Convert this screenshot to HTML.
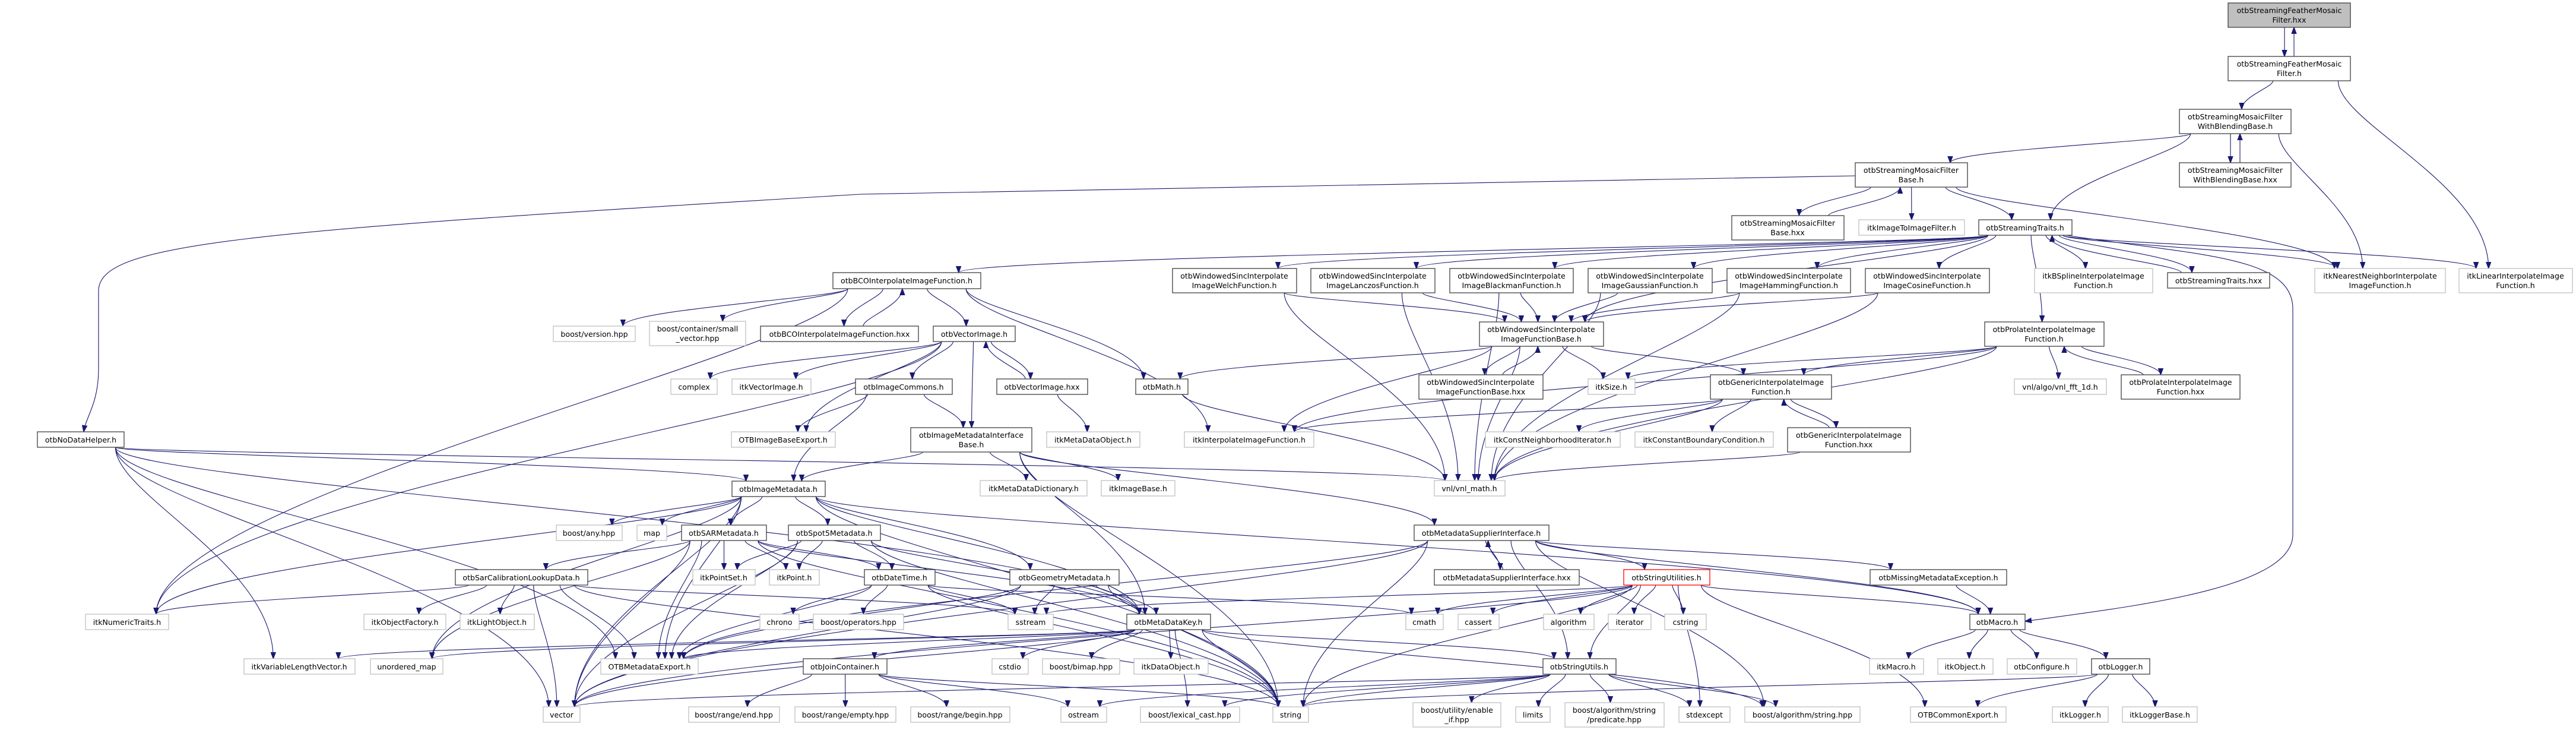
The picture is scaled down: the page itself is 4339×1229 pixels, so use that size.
<!DOCTYPE html>
<html><head><meta charset="utf-8"><style>
html,body{margin:0;padding:0;background:#fff;}
svg{display:block;}
text{font-family:"DejaVu Sans","Liberation Sans",sans-serif;font-size:12.6px;fill:#000;text-anchor:middle;}
rect{fill:#fff;stroke-width:1.3;}
.b rect{stroke:#404040;}
.g rect{stroke:#bfbfbf;}
.r rect{stroke:#ff0000;}
.f rect{fill:#bfbfbf;stroke:#404040;}
#edges path{fill:none;stroke:#191970;stroke-width:1.1;}
</style></head><body>
<svg id="svg" width="4339" height="1229" viewBox="0 0 4339 1229" xmlns="http://www.w3.org/2000/svg">
<defs><marker id="ah" markerWidth="12" markerHeight="9" refX="11" refY="4.5" orient="auto" markerUnits="userSpaceOnUse"><path d="M0,0 L12,4.5 L0,9 z" fill="#191970" stroke="#191970" stroke-width="0.5"/></marker></defs>
<g id="edges">
<path marker-end="url(#ah)" d="M3125 296 L1450 327 C 400 390 166 410 166 490 L166 620 C166 680 145 700 141 727"/>
<path marker-end="url(#ah)" d="M3480 396 C3700 430 3862 430 3862 520 L3862 900 C3862 990 3600 1020 3411 1046"/>
</g>
<g id="nodes">
<g id="A" class="f"><rect x="3753" y="5" width="206" height="41"/><text x="3856" y="22">otbStreamingFeatherMosaic</text><text x="3856" y="38">Filter.hxx</text></g>
<g id="B" class="b"><rect x="3753" y="95" width="206" height="41"/><text x="3856" y="112">otbStreamingFeatherMosaic</text><text x="3856" y="128">Filter.h</text></g>
<g id="C" class="b"><rect x="3671" y="184" width="188" height="41"/><text x="3765" y="201">otbStreamingMosaicFilter</text><text x="3765" y="217">WithBlendingBase.h</text></g>
<g id="D" class="b"><rect x="3671" y="274" width="188" height="41"/><text x="3765" y="291">otbStreamingMosaicFilter</text><text x="3765" y="307">WithBlendingBase.hxx</text></g>
<g id="E" class="b"><rect x="3125" y="274" width="189" height="41"/><text x="3219" y="291">otbStreamingMosaicFilter</text><text x="3219" y="307">Base.h</text></g>
<g id="F" class="b"><rect x="2917" y="363" width="189" height="41"/><text x="3011" y="380">otbStreamingMosaicFilter</text><text x="3011" y="396">Base.hxx</text></g>
<g id="G" class="g"><rect x="3131" y="370" width="178" height="26"/><text x="3220" y="388">itkImageToImageFilter.h</text></g>
<g id="H" class="b"><rect x="3333" y="370" width="157" height="26"/><text x="3411" y="388">otbStreamingTraits.h</text></g>
<g id="I" class="b"><rect x="2909" y="452" width="208" height="41"/><text x="3013" y="469">otbWindowedSincInterpolate</text><text x="3013" y="485">ImageHammingFunction.h</text></g>
<g id="J" class="b"><rect x="3142" y="452" width="209" height="41"/><text x="3246" y="469">otbWindowedSincInterpolate</text><text x="3246" y="485">ImageCosineFunction.h</text></g>
<g id="K" class="g"><rect x="3427" y="452" width="199" height="41"/><text x="3526" y="469">itkBSplineInterpolateImage</text><text x="3526" y="485">Function.h</text></g>
<g id="L" class="b"><rect x="3651" y="459" width="172" height="26"/><text x="3737" y="477">otbStreamingTraits.hxx</text></g>
<g id="M" class="g"><rect x="3899" y="452" width="220" height="41"/><text x="4009" y="469">itkNearestNeighborInterpolate</text><text x="4009" y="485">ImageFunction.h</text></g>
<g id="N" class="g"><rect x="4142" y="452" width="191" height="41"/><text x="4237" y="469">itkLinearInterpolateImage</text><text x="4237" y="485">Function.h</text></g>
<g id="O" class="b"><rect x="3343" y="542" width="201" height="41"/><text x="3443" y="559">otbProlateInterpolateImage</text><text x="3443" y="575">Function.h</text></g>
<g id="P" class="b"><rect x="1403" y="459" width="249" height="27"/><text x="1527" y="477">otbBCOInterpolateImageFunction.h</text></g>
<g id="Q" class="b"><rect x="1975" y="452" width="209" height="41"/><text x="2079" y="469">otbWindowedSincInterpolate</text><text x="2079" y="485">ImageWelchFunction.h</text></g>
<g id="R" class="b"><rect x="2208" y="452" width="209" height="41"/><text x="2312" y="469">otbWindowedSincInterpolate</text><text x="2312" y="485">ImageLanczosFunction.h</text></g>
<g id="S" class="b"><rect x="2442" y="452" width="208" height="41"/><text x="2546" y="469">otbWindowedSincInterpolate</text><text x="2546" y="485">ImageBlackmanFunction.h</text></g>
<g id="T" class="b"><rect x="2675" y="452" width="209" height="41"/><text x="2779" y="469">otbWindowedSincInterpolate</text><text x="2779" y="485">ImageGaussianFunction.h</text></g>
<g id="U" class="b"><rect x="2492" y="542" width="209" height="41"/><text x="2596" y="559">otbWindowedSincInterpolate</text><text x="2596" y="575">ImageFunctionBase.h</text></g>
<g id="V" class="b"><rect x="1572" y="549" width="138" height="26"/><text x="1641" y="567">otbVectorImage.h</text></g>
<g id="W" class="b"><rect x="1281" y="549" width="266" height="26"/><text x="1414" y="567">otbBCOInterpolateImageFunction.hxx</text></g>
<g id="X" class="g"><rect x="932" y="549" width="138" height="26"/><text x="1001" y="567">boost/version.hpp</text></g>
<g id="Y" class="g"><rect x="1094" y="541" width="162" height="41"/><text x="1175" y="558">boost/container/small</text><text x="1175" y="574">_vector.hpp</text></g>
<g id="Z" class="g"><rect x="1130" y="638" width="78" height="26"/><text x="1169" y="656">complex</text></g>
<g id="AA" class="g"><rect x="1233" y="638" width="133" height="26"/><text x="1299" y="656">itkVectorImage.h</text></g>
<g id="AB" class="b"><rect x="1441" y="638" width="163" height="26"/><text x="1522" y="656">otbImageCommons.h</text></g>
<g id="AC" class="b"><rect x="1679" y="638" width="153" height="26"/><text x="1755" y="656">otbVectorImage.hxx</text></g>
<g id="AD" class="b"><rect x="1913" y="638" width="88" height="26"/><text x="1957" y="656">otbMath.h</text></g>
<g id="AE" class="b"><rect x="2390" y="631" width="209" height="41"/><text x="2494" y="648">otbWindowedSincInterpolate</text><text x="2494" y="664">ImageFunctionBase.hxx</text></g>
<g id="AF" class="g"><rect x="2675" y="638" width="79" height="26"/><text x="2714" y="656">itkSize.h</text></g>
<g id="AG" class="b"><rect x="2881" y="631" width="204" height="41"/><text x="2983" y="648">otbGenericInterpolateImage</text><text x="2983" y="664">Function.h</text></g>
<g id="AH" class="g"><rect x="3393" y="638" width="155" height="26"/><text x="3470" y="656">vnl/algo/vnl_fft_1d.h</text></g>
<g id="AI" class="b"><rect x="3573" y="631" width="200" height="41"/><text x="3673" y="648">otbProlateInterpolateImage</text><text x="3673" y="664">Function.hxx</text></g>
<g id="AJ" class="b"><rect x="63" y="727" width="146" height="26"/><text x="136" y="745">otbNoDataHelper.h</text></g>
<g id="AK" class="g"><rect x="1232" y="727" width="175" height="26"/><text x="1319" y="745">OTBImageBaseExport.h</text></g>
<g id="AL" class="b"><rect x="1534" y="720" width="204" height="41"/><text x="1636" y="737">otbImageMetadataInterface</text><text x="1636" y="753">Base.h</text></g>
<g id="AM" class="g"><rect x="1763" y="727" width="157" height="26"/><text x="1841" y="745">itkMetaDataObject.h</text></g>
<g id="AN" class="g"><rect x="1995" y="727" width="218" height="26"/><text x="2104" y="745">itkInterpolateImageFunction.h</text></g>
<g id="AO" class="g"><rect x="2502" y="727" width="227" height="26"/><text x="2615" y="745">itkConstNeighborhoodIterator.h</text></g>
<g id="AP" class="g"><rect x="2754" y="727" width="233" height="26"/><text x="2870" y="745">itkConstantBoundaryCondition.h</text></g>
<g id="AQ" class="b"><rect x="3011" y="720" width="207" height="41"/><text x="3114" y="737">otbGenericInterpolateImage</text><text x="3114" y="753">Function.hxx</text></g>
<g id="AR" class="b"><rect x="1233" y="810" width="157" height="26"/><text x="1311" y="828">otbImageMetadata.h</text></g>
<g id="AS" class="g"><rect x="1651" y="809" width="180" height="26"/><text x="1741" y="827">itkMetaDataDictionary.h</text></g>
<g id="AT" class="g"><rect x="1855" y="809" width="124" height="26"/><text x="1917" y="827">itkImageBase.h</text></g>
<g id="AU" class="g"><rect x="2416" y="809" width="119" height="26"/><text x="2475" y="827">vnl/vnl_math.h</text></g>
<g id="AV" class="g"><rect x="937" y="884" width="111" height="26"/><text x="992" y="902">boost/any.hpp</text></g>
<g id="AW" class="g"><rect x="1073" y="884" width="50" height="26"/><text x="1098" y="902">map</text></g>
<g id="AX" class="b"><rect x="1148" y="884" width="143" height="26"/><text x="1219" y="902">otbSARMetadata.h</text></g>
<g id="AY" class="b"><rect x="1328" y="884" width="155" height="26"/><text x="1405" y="902">otbSpot5Metadata.h</text></g>
<g id="AZ" class="b"><rect x="2382" y="884" width="227" height="26"/><text x="2495" y="902">otbMetadataSupplierInterface.h</text></g>
<g id="BA" class="b"><rect x="767" y="959" width="223" height="26"/><text x="878" y="977">otbSarCalibrationLookupData.h</text></g>
<g id="BB" class="g"><rect x="1167" y="959" width="105" height="26"/><text x="1219" y="977">itkPointSet.h</text></g>
<g id="BC" class="g"><rect x="1296" y="959" width="84" height="26"/><text x="1338" y="977">itkPoint.h</text></g>
<g id="BD" class="b"><rect x="1456" y="959" width="119" height="26"/><text x="1515" y="977">otbDateTime.h</text></g>
<g id="BE" class="b"><rect x="1701" y="959" width="184" height="26"/><text x="1793" y="977">otbGeometryMetadata.h</text></g>
<g id="BF" class="b"><rect x="2416" y="959" width="244" height="26"/><text x="2538" y="977">otbMetadataSupplierInterface.hxx</text></g>
<g id="BG" class="r"><rect x="2735" y="959" width="145" height="26"/><text x="2807" y="977">otbStringUtilities.h</text></g>
<g id="BH" class="b"><rect x="3150" y="959" width="230" height="26"/><text x="3265" y="977">otbMissingMetadataException.h</text></g>
<g id="BI" class="g"><rect x="144" y="1034" width="140" height="26"/><text x="214" y="1052">itkNumericTraits.h</text></g>
<g id="BJ" class="g"><rect x="613" y="1034" width="138" height="26"/><text x="682" y="1052">itkObjectFactory.h</text></g>
<g id="BK" class="g"><rect x="775" y="1034" width="125" height="26"/><text x="837" y="1052">itkLightObject.h</text></g>
<g id="BL" class="g"><rect x="1280" y="1034" width="66" height="26"/><text x="1313" y="1052">chrono</text></g>
<g id="BM" class="g"><rect x="1370" y="1034" width="152" height="26"/><text x="1446" y="1052">boost/operators.hpp</text></g>
<g id="BN" class="g"><rect x="1698" y="1034" width="76" height="26"/><text x="1736" y="1052">sstream</text></g>
<g id="BO" class="b"><rect x="1898" y="1034" width="141" height="26"/><text x="1968" y="1052">otbMetaDataKey.h</text></g>
<g id="BP" class="g"><rect x="2368" y="1034" width="63" height="26"/><text x="2399" y="1052">cmath</text></g>
<g id="BQ" class="g"><rect x="2456" y="1034" width="69" height="26"/><text x="2490" y="1052">cassert</text></g>
<g id="BR" class="g"><rect x="2600" y="1034" width="85" height="26"/><text x="2642" y="1052">algorithm</text></g>
<g id="BS" class="g"><rect x="2709" y="1034" width="72" height="26"/><text x="2745" y="1052">iterator</text></g>
<g id="BT" class="g"><rect x="2804" y="1034" width="70" height="26"/><text x="2839" y="1052">cstring</text></g>
<g id="BU" class="b"><rect x="3318" y="1034" width="93" height="26"/><text x="3364" y="1052">otbMacro.h</text></g>
<g id="BV" class="g"><rect x="411" y="1109" width="187" height="26"/><text x="504" y="1127">itkVariableLengthVector.h</text></g>
<g id="BW" class="g"><rect x="624" y="1109" width="122" height="26"/><text x="685" y="1127">unordered_map</text></g>
<g id="BX" class="g"><rect x="1012" y="1109" width="164" height="26"/><text x="1094" y="1127">OTBMetadataExport.h</text></g>
<g id="BY" class="b"><rect x="1353" y="1109" width="141" height="26"/><text x="1423" y="1127">otbJoinContainer.h</text></g>
<g id="BZ" class="g"><rect x="1671" y="1109" width="61" height="26"/><text x="1701" y="1127">cstdio</text></g>
<g id="CA" class="g"><rect x="1756" y="1109" width="130" height="26"/><text x="1821" y="1127">boost/bimap.hpp</text></g>
<g id="CB" class="g"><rect x="1910" y="1109" width="125" height="26"/><text x="1972" y="1127">itkDataObject.h</text></g>
<g id="CC" class="b"><rect x="2599" y="1109" width="123" height="26"/><text x="2660" y="1127">otbStringUtils.h</text></g>
<g id="CD" class="g"><rect x="3149" y="1109" width="91" height="26"/><text x="3194" y="1127">itkMacro.h</text></g>
<g id="CE" class="g"><rect x="3264" y="1109" width="93" height="26"/><text x="3310" y="1127">itkObject.h</text></g>
<g id="CF" class="g"><rect x="3381" y="1109" width="117" height="26"/><text x="3439" y="1127">otbConfigure.h</text></g>
<g id="CG" class="b"><rect x="3523" y="1109" width="98" height="26"/><text x="3572" y="1127">otbLogger.h</text></g>
<g id="CH" class="g"><rect x="915" y="1190" width="62" height="26"/><text x="946" y="1208">vector</text></g>
<g id="CI" class="g"><rect x="1160" y="1190" width="153" height="26"/><text x="1236" y="1208">boost/range/end.hpp</text></g>
<g id="CJ" class="g"><rect x="1339" y="1190" width="170" height="26"/><text x="1424" y="1208">boost/range/empty.hpp</text></g>
<g id="CK" class="g"><rect x="1534" y="1190" width="167" height="26"/><text x="1617" y="1208">boost/range/begin.hpp</text></g>
<g id="CL" class="g"><rect x="1787" y="1190" width="77" height="26"/><text x="1825" y="1208">ostream</text></g>
<g id="CM" class="g"><rect x="1921" y="1190" width="167" height="26"/><text x="2004" y="1208">boost/lexical_cast.hpp</text></g>
<g id="CN" class="g"><rect x="2144" y="1190" width="60" height="26"/><text x="2174" y="1208">string</text></g>
<g id="CO" class="g"><rect x="2380" y="1183" width="148" height="41"/><text x="2454" y="1200">boost/utility/enable</text><text x="2454" y="1216">_if.hpp</text></g>
<g id="CP" class="g"><rect x="2553" y="1190" width="58" height="26"/><text x="2582" y="1208">limits</text></g>
<g id="CQ" class="g"><rect x="2636" y="1183" width="167" height="41"/><text x="2719" y="1200">boost/algorithm/string</text><text x="2719" y="1216">/predicate.hpp</text></g>
<g id="CR" class="g"><rect x="2828" y="1190" width="86" height="26"/><text x="2871" y="1208">stdexcept</text></g>
<g id="CS" class="g"><rect x="2939" y="1190" width="194" height="26"/><text x="3036" y="1208">boost/algorithm/string.hpp</text></g>
<g id="CT" class="g"><rect x="3218" y="1190" width="161" height="26"/><text x="3298" y="1208">OTBCommonExport.h</text></g>
<g id="CU" class="g"><rect x="3457" y="1190" width="94" height="26"/><text x="3504" y="1208">itkLogger.h</text></g>
<g id="CV" class="g"><rect x="3575" y="1190" width="126" height="26"/><text x="3638" y="1208">itkLoggerBase.h</text></g>
</g>
</svg>
<script>
(function(){
var NS="http://www.w3.org/2000/svg";
var eg=document.getElementById('edges');
function box(id){var r=document.querySelector('#'+id+' rect');var x=+r.getAttribute('x'),y=+r.getAttribute('y'),w=+r.getAttribute('width'),h=+r.getAttribute('height');return {x1:x,y1:y,x2:x+w,y2:y+h,w:w,h:h,cx:x+w/2,cy:y+h/2};}
function cl(v,m){return Math.max(-m,Math.min(m,v));}
function edge(a,b,off){off=off||0;var s=box(a),t=box(b),sx,sy,tx,ty,d;
 var dx=t.cx-s.cx;
 if(t.y1>=s.y2-2){sy=s.y2;ty=t.y1;sx=s.cx+cl(dx*0.3,s.w*0.4)+off;tx=t.cx+cl(-dx*0.12,t.w*0.35)+off;
  var k=Math.min((ty-sy)*0.45,200);
  d="M"+sx+" "+sy+" C"+sx+" "+(sy+k*0.5)+" "+tx+" "+(ty-k)+" "+tx+" "+ty;}
 else if(t.y2<=s.y1+2){sy=s.y1;ty=t.y2;sx=s.cx+cl(dx*0.3,s.w*0.4)+off;tx=t.cx+cl(-dx*0.12,t.w*0.35)+off;
  var k2=Math.min((sy-ty)*0.45,200);
  d="M"+sx+" "+sy+" C"+sx+" "+(sy-k2*0.5)+" "+tx+" "+(ty+k2)+" "+tx+" "+ty;}
 else {sy=s.cy;ty=t.cy;if(dx>0){sx=s.x2;tx=t.x1;}else{sx=s.x1;tx=t.x2;}
  d="M"+sx+" "+sy+" L"+tx+" "+ty;}
 var p=document.createElementNS(NS,'path');p.setAttribute('d',d);p.setAttribute('marker-end','url(#ah)');eg.appendChild(p);}
var E=("A-B:-8,B-A:8,B-C,B-N,C-E,C-H,C-D:-8,D-C:8,C-M,E-F:-6,F-E:6,E-G,E-H,E-M,"+
"H-P,H-Q,H-R,H-S,H-T,H-I,H-J,H-K,H-L:-6,L-H:6,H-M,H-N,H-O,H-U,"+
"P-X,P-Y,P-W:-6,W-P:6,P-V,P-AD,P-AN,P-BI,"+
"Q-U,Q-AU,R-U,R-AU,S-U,S-AU,T-U,T-AU,I-U,I-AU,J-U,J-AU,"+
"U-AE:-6,AE-U:6,U-AD,U-AF,U-AG,U-AU,U-AN,"+
"O-AF,O-AG,O-AH,O-AI:-6,AI-O:6,O-AU,O-AN,"+
"AG-AO,AG-AP,AG-AQ:-6,AQ-AG:6,AG-AN,AG-AU,AQ-AU,"+
"V-Z,V-AA,V-AK,V-AB,V-AL,V-AC:-6,AC-V:6,V-BI,AC-AM,"+
"AB-AK,AB-AR,AB-AL,AD-AU,"+
"AL-AR,AL-AS,AL-AT,AL-AZ,AL-BO,AL-CN,"+
"AJ-AR,AJ-AU,AJ-BV,AJ-CH,AJ-BX,AJ-BO,"+
"AR-AV,AR-AW,AR-AX,AR-AY,AR-BE,AR-BO,AR-BX,AR-CN,AR-CH,AR-BW,AR-BI,AR-BU,"+
"AX-BA,AX-BB,AX-BC,AX-BD,AX-BO,AX-BX,AX-CH,AX-CN,AX-BW,"+
"AY-BD,AY-BB,AY-BC,AY-BO,AY-CN,AY-CH,AY-BX,"+
"BA-BI,BA-BJ,BA-BK,BA-BX,BA-CH,BA-CN,BA-BN,"+
"BD-BL,BD-BM,BD-BX,BD-CN,BD-BP,BD-BN,"+
"BE-BN,BE-BO,BE-BX,BE-CN,BE-CH,"+
"BO-BZ,BO-CA,BO-CB,BO-CN,BO-BX,BO-CH,BO-BW,BO-BV,BO-CC,BO-CS,BO-BY,BO-CM,"+
"AZ-BF:-6,BF-AZ:6,AZ-BG,AZ-BH,AZ-BU,AZ-CN,AZ-CH,AZ-BX,AZ-CC,AZ-CS,"+
"BG-BP,BG-BQ,BG-BR,BG-BS,BG-BT,BG-BN,BG-CR,BG-CN,BG-CH,BG-BU,BG-CC,BG-CT,"+
"CC-CO,CC-CP,CC-CQ,CC-CR,CC-CS,CC-CN,CC-CH,CC-CL,CC-CM,"+
"BY-CI,BY-CJ,BY-CK,BY-CL,BY-CN,"+
"BU-CD,BU-CE,BU-CF,BU-CG,BH-BU,"+
"CG-CU,CG-CV,CG-CT,CG-CN").split(',');
E.forEach(function(e){var p=e.split(':'),q=p[0].split('-');edge(q[0],q[1],p[1]?+p[1]:0);});
})();
</script>
</body></html>
